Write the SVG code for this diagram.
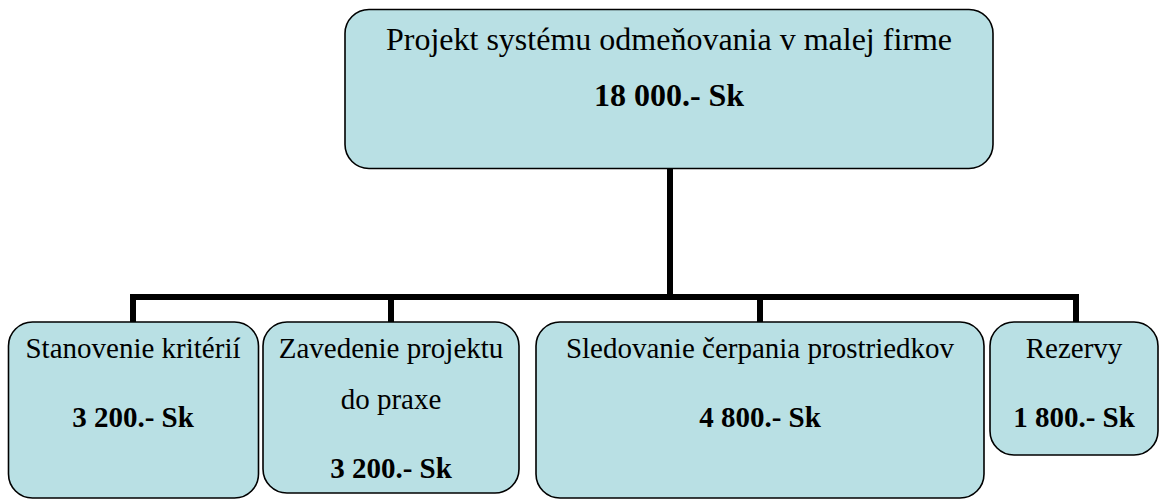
<svg xmlns="http://www.w3.org/2000/svg" width="1160" height="499" viewBox="0 0 1160 499">
<style>
.box{fill:#B9E0E4;stroke:#000;stroke-width:1.6}
.t{font-family:'Liberation Serif','Times New Roman',Times,serif;fill:#000;text-anchor:middle}
.top{font-size:32px}
.sub{font-size:29px}
.b{font-weight:bold}
.conn{fill:none;stroke:#000;stroke-width:6;stroke-linejoin:miter}
</style>
<rect x="0" y="0" width="1160" height="499" fill="#fff"/>
<g id="connectors">
<path class="conn" d="M670 169V297"/>
<path class="conn" d="M133 322V297H1076V322"/>
<path class="conn" d="M391 297V322"/>
<path class="conn" d="M760 297V322"/>
</g>
<g id="root">
<rect class="box" x="345" y="9.5" width="648" height="159" rx="24"/>
<text class="t top" x="669" y="50">Projekt systému odmeňovania v malej firme</text>
<text class="t top b" x="669" y="106">18 000.- Sk</text>
</g>
<g id="n1">
<rect class="box" x="8.5" y="322" width="250" height="176" rx="24"/>
<text class="t sub" x="133" y="358">Stanovenie kritérií</text>
<text class="t sub b" x="133" y="427">3 200.- Sk</text>
</g>
<g id="n2">
<rect class="box" x="263" y="322" width="256" height="171" rx="24"/>
<text class="t sub" x="391" y="358">Zavedenie projektu</text>
<text class="t sub" x="391" y="409">do praxe</text>
<text class="t sub b" x="391" y="478">3 200.- Sk</text>
</g>
<g id="n3">
<rect class="box" x="536" y="322" width="448" height="176" rx="24"/>
<text class="t sub" x="760" y="358">Sledovanie čerpania prostriedkov</text>
<text class="t sub b" x="760" y="427">4 800.- Sk</text>
</g>
<g id="n4">
<rect class="box" x="990" y="322" width="168" height="133" rx="24"/>
<text class="t sub" x="1074" y="358">Rezervy</text>
<text class="t sub b" x="1074" y="427">1 800.- Sk</text>
</g>
</svg>
